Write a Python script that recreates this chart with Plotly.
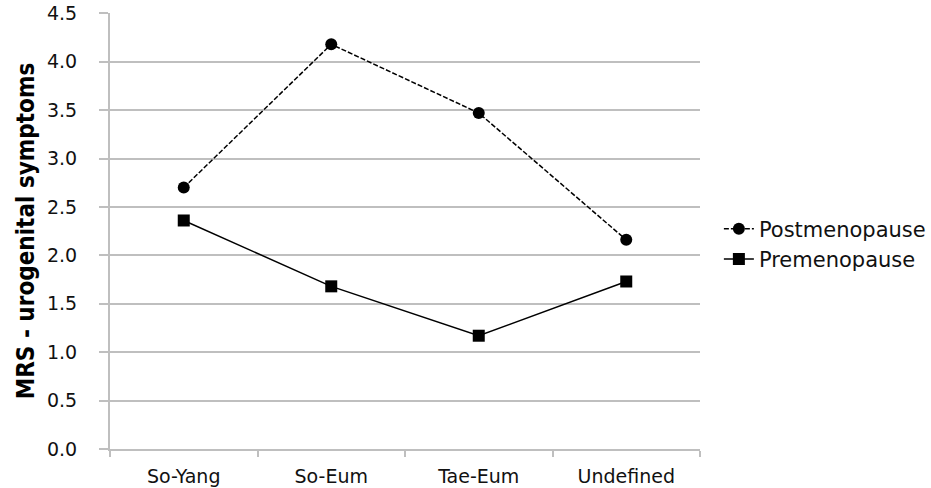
import plotly.graph_objects as go

categories = ["So-Yang", "So-Eum", "Tae-Eum", "Undefined"]
post_values = [2.70, 4.18, 3.47, 2.16]
pre_values = [2.36, 1.68, 1.17, 1.73]
y_title = "MRS - urogenital symptoms"

TICK_FONT = dict(family="DejaVu Sans", size=19, color="#111")

fig = go.Figure()
fig.add_trace(go.Scatter(
    x=categories, y=post_values, name="Postmenopause", mode="lines+markers",
    legendgroup="a",
    line=dict(color="black", width=1.5, dash="5px,2px"),
    marker=dict(symbol="circle", size=12, color="black"),
))
fig.add_trace(go.Scatter(
    x=categories, y=pre_values, name="Premenopause", mode="lines+markers",
    legendgroup="b",
    line=dict(color="black", width=1.5),
    marker=dict(symbol="square", size=12, color="black"),
))

fig.update_layout(
    width=931, height=488,
    margin=dict(l=110, r=231, t=13, b=39, autoexpand=False),
    paper_bgcolor="white", plot_bgcolor="white",
    font=TICK_FONT,
    showlegend=True,
    legend=dict(x=1.032, xanchor="left", y=0.47, yanchor="middle",
                font=dict(family="DejaVu Sans", size=21, color="#111"),
                tracegroupgap=0, bgcolor="rgba(0,0,0,0)"),
)
fig.update_xaxes(
    type="category", range=[-0.5, 3.5], automargin=False,
    showgrid=False, showline=True, linecolor="#bfbfbf", linewidth=2,
    ticks="outside", tickson="boundaries", ticklen=6, tickcolor="#bfbfbf", tickwidth=1.5,
    ticklabelstandoff=9, ticklabeloverflow="allow",
    tickfont=TICK_FONT,
)
fig.update_yaxes(
    range=[0, 4.503], dtick=0.5, tickformat=".1f", automargin=False,
    tickmode="array", tickvals=[0, 0.5, 1, 1.5, 2, 2.5, 3, 3.5, 4, 4.5],
    showgrid=True, gridcolor="#bfbfbf", gridwidth=1.5,
    showline=True, linecolor="#bfbfbf", linewidth=2,
    ticks="outside", ticklen=9, tickcolor="#bfbfbf", tickwidth=1.5,
    ticklabelstandoff=18, ticklabeloverflow="allow",
    zeroline=False,
    tickfont=TICK_FONT,
    title=dict(text=y_title, standoff=6,
               font=dict(family="Liberation Sans Narrow, DejaVu Sans Condensed, Arial Narrow", size=24, color="black",
                         weight="bold")),
)

fig.write_html(
    "out.html",
    config={"displayModeBar": False},
    post_script=(
        "document.body.style.margin='0';"
        "document.body.style.overflow='hidden';"
        "document.documentElement.style.overflow='hidden';"
    ),
)
